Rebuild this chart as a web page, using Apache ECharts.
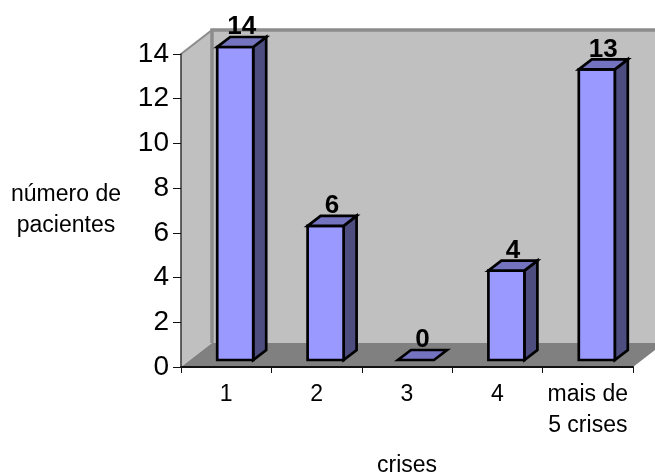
<!DOCTYPE html>
<html>
<head>
<meta charset="utf-8">
<style>html,body{margin:0;padding:0;background:#fff}#chart{width:655px;height:475px}</style>
<script src="https://cdn.jsdelivr.net/npm/echarts@6/dist/echarts.min.js"></script>
</head>
<body>
<div id="chart"></div>
<script>
// Patients by number of seizures, drawn as pseudo-3D columns
const categories = ['1', '2', '3', '4', 'mais de\n5 crises'];
const patients = [14, 6, 0, 4, 13];
const yTicks = { min: 0, max: 14, interval: 2 };
const yTitle = 'número de\npacientes';
const xTitle = 'crises';

// Depth of the chart box and of the columns inside it
const wallDepth = [31, -24];
const barDepth = [13, -10];
const barShift = [9, -7];
const barWidth = 36;
const face = { front: '#9999FF', top: '#7373BF', side: '#4D4D80' };
const edge = { stroke: '#000', lineWidth: 2.7, lineJoin: 'miter' };

function poly(points, fill, style) {
  return { type: 'polygon', shape: { points }, style: Object.assign({ fill }, style) };
}

function renderWalls(params) {
  const c = params.coordSys;
  const [dx, dy] = wallDepth;
  const l = c.x, r = c.x + c.width, t = c.y, b = c.y + c.height;
  return {
    type: 'group',
    children: [
      poly([[l + dx, t + dy], [r + dx, t + dy], [r + dx, b + dy], [l + dx, b + dy]], '#C0C0C0'),
      poly([[l, t], [l + dx, t + dy], [l + dx, b + dy], [l, b]], '#C0C0C0'),
      poly([[l, b], [l + dx, b + dy], [r + dx, b + dy], [r, b]], '#808080'),
      { type: 'polyline', shape: { points: [[r + dx, t + dy], [l + dx, t + dy], [l + dx, b + dy]] }, style: { fill: null, stroke: '#8C8C8C', lineWidth: 3.5 } },
      { type: 'line', shape: { x1: l, y1: t, x2: l + dx, y2: t + dy }, style: { stroke: '#8C8C8C', lineWidth: 2 } }
    ]
  };
}

function renderColumn(params, api) {
  const [cx, cy] = api.coord([api.value(0), api.value(1)]);
  const base = api.coord([api.value(0), 0])[1] + barShift[1];
  const top = cy + barShift[1];
  const x0 = cx + barShift[0] - barWidth / 2;
  const x1 = x0 + barWidth;
  const [dx, dy] = barDepth;
  const children = [];
  if (base - top > 0) {
    children.push(poly([[x1, top], [x1 + dx, top + dy], [x1 + dx, base + dy], [x1, base]], face.side, edge));
    children.push(poly([[x0, top], [x1, top], [x1, base], [x0, base]], face.front, edge));
  }
  children.push(poly([[x0, top], [x1, top], [x1 + dx, top + dy], [x0 + dx, top + dy]], face.top, edge));
  children.push({
    type: 'text',
    z2: 10,
    style: {
      x: x0 + (barWidth + dx) / 2,
      y: top + dy + 3,
      text: String(api.value(1)),
      fill: '#000',
      font: 'bold 26px "Liberation Sans"',
      align: 'center',
      verticalAlign: 'bottom'
    }
  });
  return { type: 'group', children };
}

const chart = echarts.init(document.getElementById('chart'), null, { renderer: 'canvas' });
chart.setOption({
  animation: false,
  backgroundColor: '#fff',
  textStyle: { fontFamily: 'Liberation Sans', color: '#000' },
  grid: { left: 181, right: 22, top: 54, bottom: 108, outerBoundsMode: 'none' },
  xAxis: {
    type: 'category',
    data: categories,
    name: xTitle,
    nameLocation: 'middle',
    nameGap: 87,
    nameTextStyle: { fontSize: 23, color: '#000' },
    axisLine: { lineStyle: { color: '#111', width: 2 } },
    axisTick: { show: true, length: 6, lineStyle: { color: '#111' } },
    axisLabel: { color: '#000', fontSize: 23, lineHeight: 31, margin: 12, interval: 0 },
    z: 5
  },
  yAxis: {
    type: 'value',
    min: yTicks.min,
    max: yTicks.max,
    interval: yTicks.interval,
    name: yTitle,
    nameLocation: 'middle',
    nameRotate: 0,
    nameGap: 115,
    nameTextStyle: { fontSize: 23, color: '#000', lineHeight: 31, align: 'center' },
    splitLine: { show: false },
    axisLine: { show: true, lineStyle: { color: '#333', width: 1.5 } },
    axisTick: { show: true, length: 8, lineStyle: { color: '#111' } },
    axisLabel: { color: '#000', fontSize: 28, margin: 12 },
    z: 5
  },
  series: [
    {
      type: 'custom',
      coordinateSystem: 'cartesian2d',
      clip: false,
      silent: true,
      z: 1,
      data: [[0, 0]],
      renderItem: renderWalls
    },
    {
      type: 'custom',
      coordinateSystem: 'cartesian2d',
      clip: false,
      z: 2,
      data: patients.map((v, i) => [i, v]),
      encode: { x: 0, y: 1 },
      renderItem: renderColumn
    }
  ]
});
</script>
</body>
</html>
